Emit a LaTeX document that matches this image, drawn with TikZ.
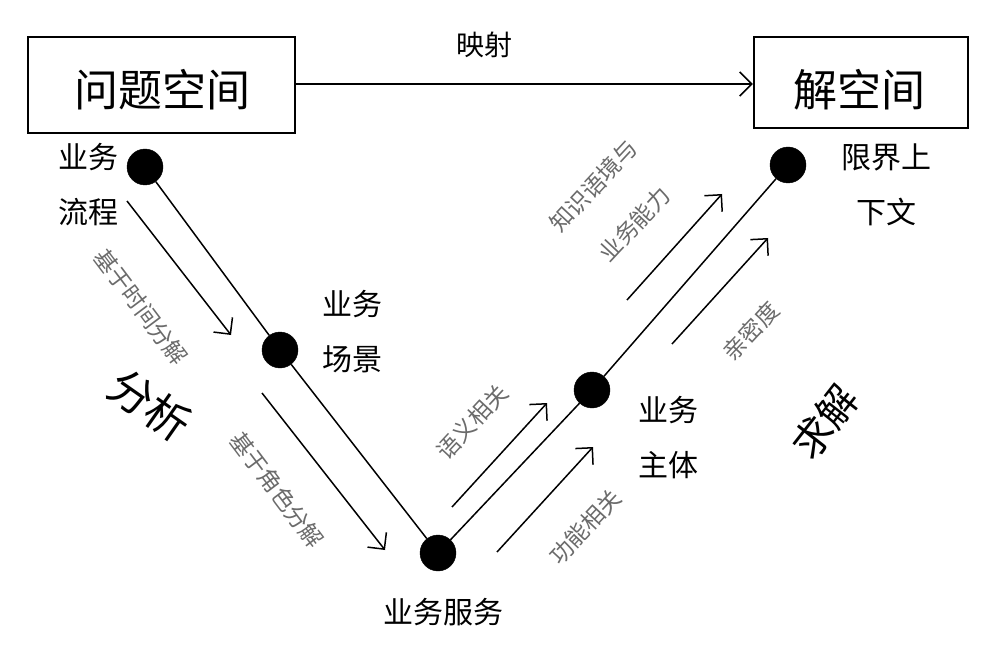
\documentclass[tikz,border=0pt]{standalone}
\usepackage{fontspec}
\setmainfont{Noto Sans CJK SC}
\usetikzlibrary{arrows.meta}
\tikzset{
  dot/.style={circle,fill=black,draw=black,minimum size=36pt,inner sep=0pt},
  spacebox/.style={draw=black,line width=2.5pt,inner sep=0pt},
  bigtext/.style={font=\fontsize{44}{48}\selectfont},
  lbl/.style={font=\fontsize{30}{55}\selectfont,align=center,inner sep=0pt},
  rlbl/.style={font=\fontsize{23}{40}\selectfont,text=black!58,align=center,inner sep=0pt},
  conn/.style={line width=1.5pt},
  flow/.style={line width=1.5pt,-{Straight Barb[length=12pt,width=24pt,line width=1.5pt]}},
}
\begin{document}
\begin{tikzpicture}[x=1pt,y=-1pt]
\useasboundingbox (0,0) rectangle (985,647);
% boxes
\node[spacebox,minimum width=267pt,minimum height=96pt] (prob) at (161.5,85) {};
\node[bigtext] (probt) at (162,90) {问题空间};
\node[spacebox,minimum width=214pt,minimum height=91pt] (sol) at (861,82.5) {};
\node[bigtext] (solt) at (859,90) {解空间};
\draw[flow] (prob.east |- 0,84) coordinate (m1) -- (sol.west |- 0,84) coordinate (m2);
\node[font=\fontsize{28}{30}\selectfont] (map) at (484,45) {映射};
% dots
\node[dot] (A) at (145,167) {};
\node[dot] (B) at (280,350) {};
\node[dot] (C) at (438,553) {};
\node[dot] (D) at (592,390) {};
\node[dot] (E) at (788,165) {};
\draw[conn] (A) -- (B) -- (C) -- (D) -- (E);
% labels
\node[lbl] (la) at (88,185) {业务\\流程};
\node[lbl] (lb) at (352,332) {业务\\场景};
\node[lbl] (lc) at (443,612) {业务服务};
\node[lbl] (ld) at (668,438) {业务\\主体};
\node[lbl] (le) at (886,185) {限界上\\下文};
\node[font=\fontsize{44}{48}\selectfont,rotate=-35] (fx) at (150,405) {分析};
\node[font=\fontsize{40}{44}\selectfont,rotate=52] (qj) at (825,422) {求解};
% parallel arrows
\coordinate (a1s) at (127,201); \coordinate (a1e) at (231,335);
\coordinate (a2s) at (262,393); \coordinate (a2e) at (385,550);
\coordinate (a3s) at (452,507); \coordinate (a3e) at (547,403);
\coordinate (a4s) at (497,552); \coordinate (a4e) at (593,447);
\coordinate (a5s) at (627,300); \coordinate (a5e) at (722,194);
\coordinate (a6s) at (672,344); \coordinate (a6e) at (768,238);
\draw[flow] (a1s) -- (a1e);
\draw[flow] (a2s) -- (a2e);
\draw[flow] (a3s) -- (a3e);
\draw[flow] (a4s) -- (a4e);
\draw[flow] (a5s) -- (a5e);
\draw[flow] (a6s) -- (a6e);
\node[rlbl,rotate=-53] (t1) at (141,307) {基于时间分解};
\node[rlbl,rotate=-53] (t2) at (277,490) {基于角色分解};
\node[rlbl,rotate=47] (t3) at (472,422) {语义相关};
\node[rlbl,rotate=47] (t4) at (585,527) {功能相关};
\node[rlbl,rotate=47,font=\fontsize{23}{56}\selectfont] (t5) at (614,205) {知识语境与\\业务能力};
\node[rlbl,rotate=47] (t6) at (751,331) {亲密度};
\end{tikzpicture}
\end{document}
